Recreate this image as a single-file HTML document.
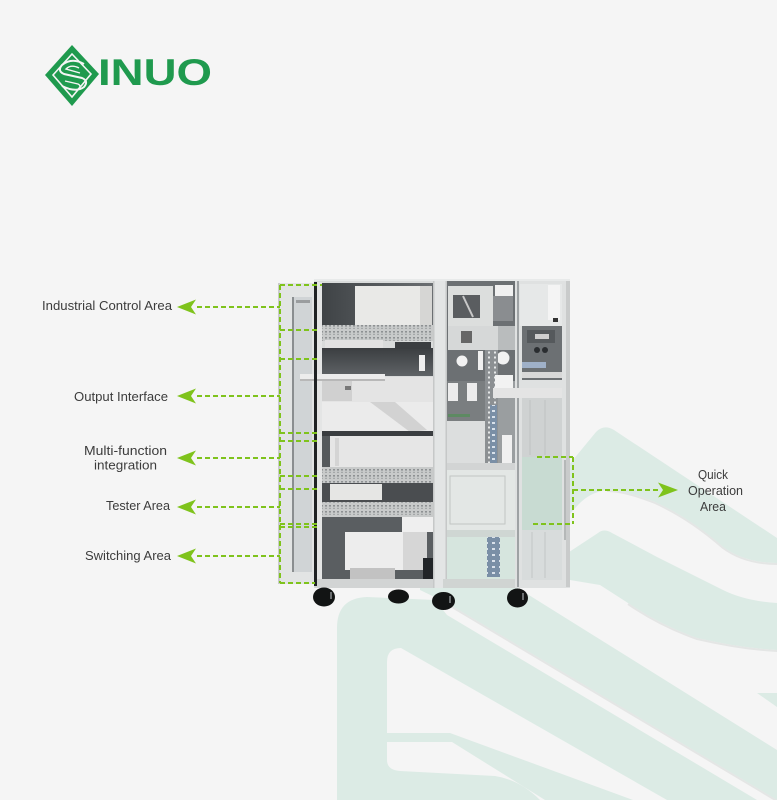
<!DOCTYPE html>
<html><head><meta charset="utf-8"><style>
html,body{margin:0;padding:0;background:#f5f5f5;}
svg{display:block;}
text{font-family:"Liberation Sans",Arial,sans-serif;}
</style></head><body>
<svg width="777" height="800" viewBox="0 0 777 800" xmlns="http://www.w3.org/2000/svg">
<defs>
<pattern id="perf" width="4" height="6" patternUnits="userSpaceOnUse"><rect width="4" height="6" fill="#c8caca"/><rect x="1" y="1" width="2" height="1.6" fill="#8e9193"/><rect x="1" y="3.8" width="2" height="1.2" fill="#a4a7a8"/></pattern>
<pattern id="rack" width="6" height="5" patternUnits="userSpaceOnUse"><rect width="6" height="5" fill="#8c9093"/><rect x="2" y="1.5" width="2" height="2" fill="#e6e8e8"/></pattern>
<pattern id="brack" width="7" height="6" patternUnits="userSpaceOnUse"><rect width="7" height="6" fill="#7a8fa6"/><rect x="2" y="2" width="3" height="2" fill="#d9e1ea"/></pattern>
<linearGradient id="dk" x1="0" y1="0" x2="1" y2="0"><stop offset="0" stop-color="#3f4346"/><stop offset="1" stop-color="#6b6f72"/></linearGradient>
<linearGradient id="dk2" x1="0" y1="0" x2="0" y2="1"><stop offset="0" stop-color="#3b3e41"/><stop offset="1" stop-color="#5f6366"/></linearGradient>
</defs>

<!-- watermark -->
<g fill="#dcebe5">
<path d="M540,500 L596,432 Q604,424 614,430 L777,538 L777,563 Q745,563 723,547 Q690,518 655,502 Q625,490 607,490 Q590,492 578,505 L555,530 Z"/>
<path d="M560,558 L598,533 Q604,528 612,533 L657,557 L723,590 Q745,601 777,603 L777,650 Q740,648 697,638 Q660,625 628,603 L600,585 L570,580 Z"/>
<path d="M420,527 L777,750 L777,800 L447,603 L420,590 Z"/>
<path d="M757,693 L777,693 L777,707 Z"/>
<path d="M337,800 L337,628 Q337,598 367,597 L435,600 L447,615 L757,800 Z"/>
</g>
<g fill="#f5f5f5">
<path d="M387,662 Q387,648 401,648 L667,800 L633,800 L450,733 L387,733 Z"/>
<path d="M387,742 L452,742 L545,800 L540,800 Q520,780 495,776 L400,771 Q387,770 387,760 Z"/>
</g>
<g fill="none" stroke="#e4e6e5" stroke-width="2">
<path d="M607,491 Q625,491 655,503 Q690,519 723,548 Q745,564 777,564"/>
<path d="M628,604 Q660,626 697,639 Q740,649 777,651"/>
<path d="M447,604 L777,801"/>
</g>

<!-- logo -->
<g>
<polygon points="45,75 72,45 99,74 72,106" fill="#1f9a4e"/>
<polygon points="53,75 72,54 91,74 72,97" fill="none" stroke="#f5f5f5" stroke-width="1.6"/>
<path d="M84,64 Q72,57 62,65 Q57,71 64,74 L82,78 Q89,81 84,87 Q76,93 62,86" fill="none" stroke="#f5f5f5" stroke-width="2"/>
<path d="M79,68 Q71,64 66,69 L80,73" fill="none" stroke="#f5f5f5" stroke-width="1.4"/>
<path d="M65,81 L78,84 Q82,86 78,89" fill="none" stroke="#f5f5f5" stroke-width="1.4"/>
<text x="98" y="85" font-size="37" font-weight="bold" fill="#1f9a4e" textLength="114" lengthAdjust="spacingAndGlyphs">INUO</text>
</g>

<!-- cabinet -->
<g>
<!-- left door -->
<rect x="278" y="283" width="38" height="301" fill="#e2e4e4"/>
<rect x="292" y="297" width="20" height="275" fill="#d0d4d6"/>
<rect x="292" y="297" width="2" height="275" fill="#8a8e90"/>
<rect x="296" y="300" width="14" height="3" fill="#9a9d9f"/>
<rect x="278" y="283" width="2" height="301" fill="#c9cbcb"/>

<!-- main left section -->
<rect x="314" y="280" width="129" height="308" fill="#d9dbdb"/>
<rect x="317" y="282" width="5" height="298" fill="#e4e5e5"/>
<rect x="322" y="283" width="111" height="43" fill="url(#dk)"/>
<rect x="355" y="286" width="77" height="39" fill="#e9e9e7"/>
<rect x="420" y="286" width="12" height="39" fill="#d6d6d4"/>
<rect x="322" y="325" width="111" height="16" fill="url(#perf)"/>
<rect x="325" y="340" width="58" height="8" fill="#e2e2e2"/>
<rect x="322" y="348" width="111" height="28" fill="url(#dk2)"/>
<rect x="395" y="342" width="36" height="7" fill="#3a3d40"/>
<rect x="419" y="355" width="6" height="16" fill="#eeeeee"/>
<rect x="322" y="377" width="111" height="25" fill="#e4e4e4"/>
<rect x="322" y="380" width="30" height="21" fill="#d0d0d0"/>
<rect x="345" y="386" width="6" height="4" fill="#777"/>
<rect x="300" y="374" width="85" height="6" fill="#ececec"/>
<rect x="300" y="379" width="85" height="2" fill="#b8b8b8"/>
<rect x="322" y="402" width="111" height="29" fill="#ebebeb"/>
<polygon points="370,402 395,402 427,430 410,432" fill="#d2d2d2"/>
<rect x="322" y="431" width="111" height="5" fill="#3a3d40"/>
<rect x="322" y="436" width="111" height="31" fill="#e6e6e6"/>
<rect x="322" y="436" width="8" height="31" fill="#55595c"/>
<rect x="335" y="438" width="4" height="28" fill="#d4d4d4"/>
<rect x="322" y="467" width="111" height="16" fill="url(#perf)"/>
<rect x="322" y="483" width="111" height="20" fill="#4a4d50"/>
<rect x="330" y="484" width="52" height="16" fill="#e6e6e4"/>
<rect x="322" y="502" width="111" height="15" fill="url(#perf)"/>
<rect x="322" y="517" width="111" height="63" fill="#5a5e61"/>
<rect x="402" y="517" width="31" height="15" fill="#efefef"/>
<rect x="345" y="532" width="58" height="38" fill="#ededed"/>
<rect x="403" y="532" width="24" height="38" fill="#d6d6d6"/>
<rect x="350" y="568" width="45" height="12" fill="#c2c2c2"/>
<rect x="423" y="558" width="30" height="22" fill="#222528"/>
<rect x="315" y="579" width="128" height="9" fill="#d2d4d4"/>
<rect x="314" y="282" width="3" height="304" fill="#1f2224"/>

<!-- center post -->
<rect x="433" y="280" width="14" height="308" fill="#e3e5e5"/>
<rect x="433" y="280" width="1.5" height="308" fill="#c6c8c8"/>
<rect x="445.5" y="280" width="1.5" height="308" fill="#c6c8c8"/>

<!-- right section -->
<rect x="447" y="281" width="71" height="100" fill="#6c7073"/>
<rect x="448" y="286" width="45" height="40" fill="#dcdedd"/>
<rect x="453" y="295" width="27" height="23" fill="#5a5d60"/>
<line x1="463" y1="296" x2="473" y2="317" stroke="#c8c8c8" stroke-width="2"/>
<rect x="495" y="285" width="18" height="11" fill="#f0f0f0"/>
<rect x="493" y="296" width="20" height="25" fill="#8a8d90"/>
<rect x="448" y="326" width="50" height="24" fill="#d6d8d8"/>
<rect x="461" y="331" width="11" height="12" fill="#666"/>
<rect x="498" y="326" width="20" height="24" fill="#b9bcbd"/>
<circle cx="462" cy="361" r="5.5" fill="#f2f2f2"/>
<circle cx="503" cy="358" r="6.5" fill="#f2f2f2"/>
<rect x="478" y="351" width="5" height="19" fill="#f0f0f0"/>
<rect x="447" y="381" width="38" height="40" fill="#7a7e80"/>
<rect x="448" y="383" width="10" height="18" fill="#ececec"/>
<rect x="467" y="383" width="10" height="18" fill="#ececec"/>
<rect x="448" y="414" width="22" height="3" fill="#5d8a62"/>
<rect x="485" y="350" width="13" height="115" fill="url(#rack)"/>
<rect x="498" y="381" width="20" height="84" fill="#9a9ea0"/>
<rect x="495" y="375" width="18" height="16" fill="#f2f2f2"/>
<rect x="447" y="421" width="38" height="44" fill="#dcdede"/>
<rect x="490" y="405" width="7" height="58" fill="url(#brack)"/>
<rect x="502" y="435" width="10" height="28" fill="#f0f0f0"/>
<rect x="447" y="463" width="71" height="7" fill="#d2d4d4"/>
<rect x="447" y="470" width="71" height="60" fill="#e3e7e5"/>
<rect x="450" y="476" width="55" height="48" fill="none" stroke="#c2c6c4" stroke-width="1"/>
<rect x="447" y="530" width="71" height="7" fill="#cfd6d3"/>
<rect x="447" y="537" width="71" height="43" fill="#d6e5de"/>
<rect x="487" y="537" width="13" height="40" fill="url(#brack)"/>
<rect x="443" y="579" width="75" height="9" fill="#d0d4d2"/>

<!-- right door -->
<rect x="515" y="281" width="55" height="307" fill="#dfe1e1"/>
<rect x="517" y="281" width="2" height="306" fill="#9ea2a4"/>
<rect x="566" y="281" width="4" height="306" fill="#c9cbcb"/>
<rect x="520" y="284" width="42" height="42" fill="#e6e8e8"/>
<rect x="548" y="285" width="12" height="35" fill="#f4f4f4"/>
<rect x="553" y="318" width="5" height="4" fill="#333"/>
<rect x="522" y="326" width="40" height="54" fill="#6c7073"/>
<rect x="527" y="330" width="28" height="13" fill="#55595c"/>
<rect x="535" y="334" width="14" height="5" fill="#cfcfcf"/>
<circle cx="537" cy="350" r="3" fill="#2a2d30"/>
<circle cx="545" cy="350" r="3" fill="#2a2d30"/>
<rect x="522" y="362" width="24" height="6" fill="#9fb0c8"/>
<rect x="522" y="372" width="40" height="6" fill="#d8d8d8"/>
<rect x="493" y="388" width="69" height="10" fill="#e4e4e4"/>
<rect x="522" y="398" width="40" height="59" fill="#cfd2d2"/>
<line x1="530" y1="400" x2="530" y2="455" stroke="#bfc2c2"/>
<line x1="545" y1="400" x2="545" y2="455" stroke="#bfc2c2"/>
<rect x="522" y="457" width="40" height="73" fill="#c8dbd2"/>
<rect x="522" y="530" width="40" height="50" fill="#d8dcdc"/>
<line x1="532" y1="532" x2="532" y2="578" stroke="#c2c6c6"/>
<line x1="545" y1="532" x2="545" y2="578" stroke="#c2c6c6"/>
<rect x="564" y="460" width="2" height="80" fill="#b5b8b8"/>

<rect x="314" y="279" width="256" height="2" fill="#e8eaea"/>

<!-- wheels -->
<g fill="#121414">
<ellipse cx="324" cy="597" rx="11" ry="9.5"/>
<ellipse cx="398.5" cy="596.5" rx="10.5" ry="7"/>
<ellipse cx="443.5" cy="601" rx="11.5" ry="9"/>
<ellipse cx="517.5" cy="598" rx="10.5" ry="9.5"/>
</g>
<g fill="#6a6e70">
<rect x="330" y="592" width="2" height="7"/>
<rect x="449" y="596" width="2" height="7"/>
<rect x="522" y="593" width="2" height="7"/>
</g>
</g>

<!-- green callouts -->
<g stroke="#7fc31c" stroke-width="2" fill="none" stroke-dasharray="5 3">
<line x1="280" y1="285" x2="280" y2="583"/>
<line x1="280" y1="285" x2="322" y2="285"/>
<line x1="280" y1="330" x2="320" y2="330"/>
<line x1="280" y1="359" x2="320" y2="359"/>
<line x1="280" y1="433" x2="320" y2="433"/>
<line x1="280" y1="441" x2="320" y2="441"/>
<line x1="280" y1="476" x2="320" y2="476"/>
<line x1="280" y1="489" x2="320" y2="489"/>
<line x1="280" y1="524" x2="320" y2="524"/>
<line x1="280" y1="527" x2="320" y2="527"/>
<line x1="280" y1="583" x2="315" y2="583"/>
<line x1="197" y1="307" x2="280" y2="307"/>
<line x1="197" y1="396" x2="280" y2="396"/>
<line x1="197" y1="458" x2="280" y2="458"/>
<line x1="197" y1="507" x2="280" y2="507"/>
<line x1="197" y1="556" x2="280" y2="556"/>
<line x1="537" y1="457" x2="573" y2="457"/>
<line x1="573" y1="457" x2="573" y2="524"/>
<line x1="533" y1="524" x2="573" y2="524"/>
<line x1="573" y1="490" x2="660" y2="490"/>
</g>
<g fill="#7fc31c">
<path d="M177,307 L196,299.5 L191,307 L196,314.5 Z"/>
<path d="M177,396 L196,388.5 L191,396 L196,403.5 Z"/>
<path d="M177,458 L196,450.5 L191,458 L196,465.5 Z"/>
<path d="M177,507 L196,499.5 L191,507 L196,514.5 Z"/>
<path d="M177,556 L196,548.5 L191,556 L196,563.5 Z"/>
<path d="M678,490 L658,482.5 L663,490 L658,497.5 Z"/>
</g>

<!-- labels -->
<g font-size="13" fill="#3c3c3c">
<text x="42" y="310" textLength="130" lengthAdjust="spacingAndGlyphs">Industrial Control Area</text>
<text x="74" y="401" textLength="94" lengthAdjust="spacingAndGlyphs">Output Interface</text>
<text x="84" y="455" textLength="83" lengthAdjust="spacingAndGlyphs">Multi-function</text>
<text x="94" y="469.5" textLength="63" lengthAdjust="spacingAndGlyphs">integration</text>
<text x="106" y="510" textLength="64" lengthAdjust="spacingAndGlyphs">Tester Area</text>
<text x="85" y="560" textLength="86" lengthAdjust="spacingAndGlyphs">Switching Area</text>
<text x="698" y="479" textLength="30" lengthAdjust="spacingAndGlyphs">Quick</text>
<text x="688" y="495" textLength="55" lengthAdjust="spacingAndGlyphs">Operation</text>
<text x="700" y="511" textLength="26" lengthAdjust="spacingAndGlyphs">Area</text>
</g>
</svg>
</body></html>
